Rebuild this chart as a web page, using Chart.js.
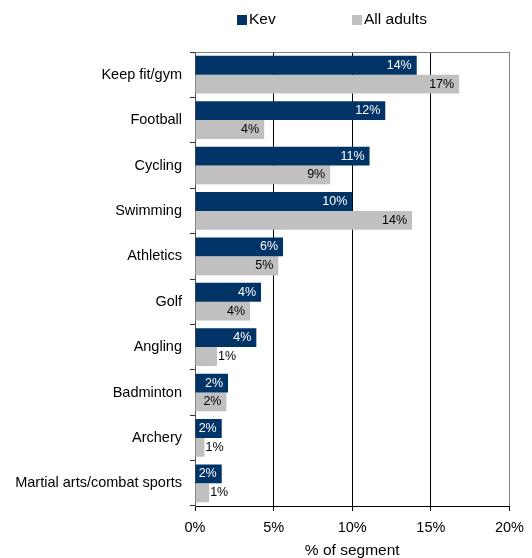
<!DOCTYPE html>
<html>
<head>
<meta charset="utf-8">
<script src="https://cdn.jsdelivr.net/npm/chart.js@4/dist/chart.umd.min.js"></script>
<style>
  body { margin: 0; background: #fff; }
  #wrap { width: 532px; height: 558px; }
</style>
</head>
<body>
<div id="wrap"><canvas id="sportChart" width="532" height="558"></canvas></div>
<script>
// Sports taken part in, % of segment
const sports = ['Keep fit/gym', 'Football', 'Cycling', 'Swimming', 'Athletics', 'Golf',
    'Angling', 'Badminton', 'Archery', 'Martial arts/combat sports'];
const kevValues = [14.1, 12.1, 11.1, 10.0, 5.6, 4.2, 3.9, 2.1, 1.7, 1.7];
const allAdultValues = [16.8, 4.4, 8.6, 13.8, 5.3, 3.5, 1.4, 2.0, 0.6, 0.9];
const xTicks = [0, 5, 10, 15, 20];

const FONT = '"Liberation Sans", Arial, sans-serif';

// legend drawn above the plot, like the original
const topLegend = {
    id: 'topLegend',
    afterDraw(chart) {
        const ctx = chart.ctx;
        const xs = [237, 352];
        ctx.save();
        ctx.font = '15.5px ' + FONT;
        ctx.textBaseline = 'middle';
        chart.data.datasets.forEach((ds, i) => {
            ctx.fillStyle = ds.backgroundColor;
            ctx.fillRect(xs[i], 15, 10, 10);
            ctx.fillStyle = '#000';
            ctx.fillText(ds.label, xs[i] + 12, 20);
        });
        ctx.restore();
    }
};

// value labels: inside the bar end when they fit, just outside otherwise
const barLabels = {
    id: 'barLabels',
    afterDatasetsDraw(chart) {
        const ctx = chart.ctx;
        ctx.save();
        ctx.font = '12.5px ' + FONT;
        ctx.textBaseline = 'middle';
        chart.data.datasets.forEach((ds, i) => {
            const meta = chart.getDatasetMeta(i);
            meta.data.forEach((bar, j) => {
                const text = Math.round(ds.data[j]) + '%';
                const w = ctx.measureText(text).width;
                const barW = bar.x - bar.base;
                if (barW >= w + 6) {
                    ctx.textAlign = 'right';
                    ctx.fillStyle = ds.labelColor;
                    ctx.fillText(text, bar.x - 5, bar.y);
                } else {
                    ctx.textAlign = 'left';
                    ctx.fillStyle = '#000';
                    ctx.fillText(text, bar.x + 1, bar.y);
                }
            });
        });
        ctx.restore();
    }
};

const ctx = document.getElementById('sportChart').getContext('2d');
const sportChart = new Chart(ctx, {
    type: 'bar',
    data: {
        labels: sports,
        datasets: [{
            label: 'Kev',
            data: kevValues,
            backgroundColor: '#003366',
            labelColor: '#fff'
        }, {
            label: 'All adults',
            data: allAdultValues,
            backgroundColor: '#c0c0c0',
            labelColor: '#000'
        }]
    },
    options: {
        indexAxis: 'y',
        responsive: false,
        animation: false,
        layout: { padding: { top: 52, right: 22, bottom: 0, left: 0 } },
        datasets: {
            bar: { categoryPercentage: 0.83, barPercentage: 1.0, borderWidth: 0 }
        },
        plugins: {
            legend: { display: false },
            tooltip: { enabled: false }
        },
        scales: {
            x: {
                min: 0,
                max: 20,
                afterBuildTicks: (scale) => { scale.ticks = xTicks.map(v => ({ value: v })); },
                afterFit: (scale) => { scale.height = 52; },
                ticks: {
                    callback: (v) => v + '%',
                    color: '#000',
                    font: { family: FONT, size: 14.5 },
                    padding: 8,
                    maxRotation: 0
                },
                grid: {
                    color: (c) => (c.tick && c.tick.value === 20) ? '#808080' : '#000',
                    tickColor: '#000',
                    tickLength: 5,
                    lineWidth: 1
                },
                border: { color: '#000' },
                title: {
                    display: true,
                    text: '% of segment',
                    color: '#000',
                    font: { family: FONT, size: 15.5, lineHeight: 1 },
                    padding: 0
                }
            },
            y: {
                afterFit: (scale) => { scale.width = 195; },
                ticks: {
                    color: '#000',
                    font: { family: FONT, size: 14.5 },
                    padding: 8
                },
                grid: {
                    offset: true,
                    drawOnChartArea: true,
                    color: (c) => c.index === 0 ? '#808080' : 'rgba(0,0,0,0)',
                    tickColor: '#333',
                    tickLength: 5
                },
                border: { color: '#555' }
            }
        }
    },
    plugins: [topLegend, barLabels]
});
</script>
</body>
</html>
